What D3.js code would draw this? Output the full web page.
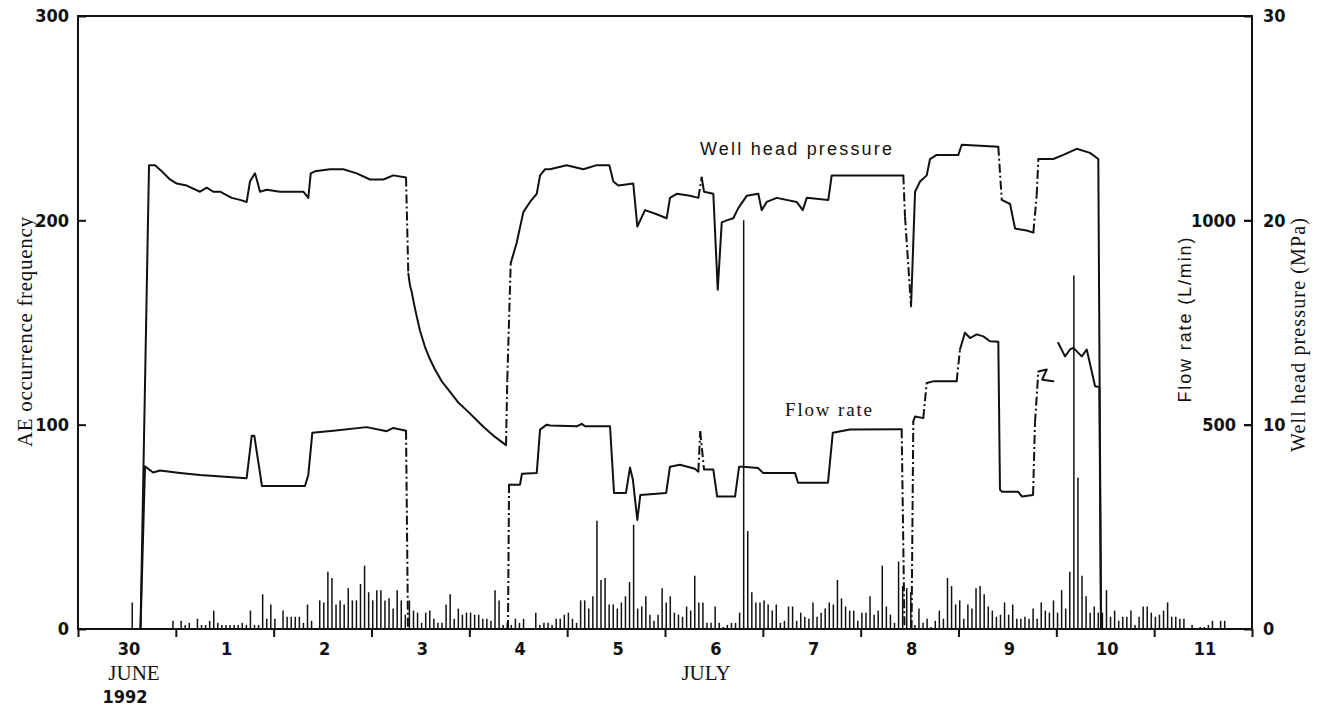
<!DOCTYPE html>
<meta charset="utf-8">
<style>
    body { margin: 0; background: #fff; }
    svg { display: block; }
    .axis path { display: none; }
    .axis line { stroke: #111; stroke-width: 2; }
    .axis text, .num {
        font-family: "Liberation Sans Narrow", "DejaVu Sans Condensed", sans-serif;
        font-weight: bold;
        font-size: 18px;
        fill: #111;
    }
    .serif { font-family: "Liberation Serif", "DejaVu Serif", serif; fill: #111; }
    .sans { font-family: "Liberation Sans", "DejaVu Sans", sans-serif; fill: #111; }
    .trace { fill: none; stroke: #111; stroke-width: 2; stroke-linecap: round; stroke-linejoin: round; }
    .trace.dashed { stroke-dasharray: 9,3,2,3; stroke-linecap: butt; }
    .bars line { stroke: #111; stroke-width: 1.5; }
</style>

<svg width="1323" height="707"></svg>

<script src="https://d3js.org/d3.v7.min.js"></script>
<script>
// day axis: 0 = 30 June 1992 00:00, 12 = 12 July 00:00
var dayLabels = ["30", "1", "2", "3", "4", "5", "6", "7", "8", "9", "10", "11"];

// hourly AE counts, 24 per day starting 30 June
var aeCounts = [
    0,0,0,0,0,0,0,0,0,0,0,0,0,13,0,0,0,0,0,0,0,0,0,4,
    0,4,2,3,0,5,2,2,4,9,3,2,2,2,2,2,3,2,9,2,2,17,5,12,
    5,0,9,6,6,6,6,3,12,4,0,14,13,28,25,12,14,12,20,14,14,22,31,18,
    14,19,19,14,15,10,19,14,7,14,9,8,3,8,9,5,3,3,12,17,5,10,7,8,
    8,7,7,5,5,4,19,14,2,3,2,5,3,5,0,0,8,2,3,3,2,5,5,7,
    8,5,3,14,14,10,16,53,24,25,12,12,10,13,16,23,51,10,11,16,7,4,7,20,
    13,16,8,7,6,11,9,26,13,13,3,3,11,3,1,2,3,3,8,200,48,18,13,13,
    14,12,9,12,3,4,11,11,4,8,6,5,13,6,8,10,13,12,24,15,11,9,9,4,
    8,8,16,7,9,31,11,7,3,33,21,20,18,2,10,3,5,1,4,9,5,25,21,12,
    14,5,12,10,20,21,17,11,9,6,7,13,7,12,5,5,6,5,10,5,13,9,8,14,
    8,19,10,28,173,74,26,16,8,11,8,8,19,6,9,4,6,6,9,2,6,11,11,8,
    6,7,9,13,6,6,5,5,0,2,0,1,1,2,4,0,4,4,0,0,0,0,0,0
];

// well head pressure (MPa)
var pressureDay = [0.639,0.726,0.787,0.856,0.940,1.009,1.111,1.247,1.316,1.383,
    1.452,1.571,1.656,1.724,1.758,1.809,1.833,1.860,1.929,2.065,
    2.133,2.303,2.354,2.379,2.423,2.576,2.712,2.849,2.985,3.121,
    3.223,3.353,3.376,3.394,3.411,3.435,3.462,3.496,3.547,3.598,
    3.649,3.721,3.803,3.884,3.973,4.058,4.143,4.262,
    4.375,4.388,4.423,4.484,4.552,4.620,4.689,4.723,4.774,4.825,
    4.995,5.165,5.302,5.431,5.472,5.523,5.676,5.717,5.796,5.915,
    6.017,6.051,6.120,6.256,6.341,6.375,6.399,6.494,6.539,6.580,
    6.631,6.698,6.749,6.835,6.954,6.988,7.040,7.142,7.346,7.408,
    7.449,7.669,7.704,7.891,8.436,8.453,8.515,8.556,8.607,8.675,
    8.709,8.777,8.998,9.033,9.407,9.442,9.527,9.578,9.697,9.765,
    9.799,9.816,9.969,10.072,10.208,10.344,10.429,10.457];
var pressureMPa = [0,22.7,22.7,22.4,22.0,21.8,21.7,21.4,21.6,21.4,
    21.4,21.1,21.0,20.9,21.9,22.3,21.9,21.4,21.5,21.4,
    21.4,21.4,21.1,22.3,22.4,22.5,22.5,22.3,22.0,22.0,
    22.2,22.1,17.4,16.8,16.5,15.9,15.3,14.6,13.8,13.2,
    12.7,12.1,11.6,11.1,10.7,10.3,9.9,9.4,
    9.0,12.2,17.9,18.9,20.4,20.9,21.3,22.2,22.5,22.5,
    22.7,22.5,22.7,22.7,21.9,21.7,21.8,19.7,20.5,20.3,
    20.1,21.1,21.3,21.2,21.1,22.1,21.4,21.3,16.6,19.9,
    20.0,20.1,20.6,21.2,21.3,20.5,20.9,21.1,20.9,20.5,
    21.1,21.0,22.2,22.2,22.2,20.2,15.8,21.4,21.9,22.2,
    23.0,23.2,23.2,23.7,23.6,21.0,20.8,19.6,19.5,19.4,
    21.2,23.0,23.0,23.2,23.5,23.3,23.0,0];
var pressureDashFrom = [3.353, 4.375, 4.388, 6.341, 8.436, 8.453, 9.407, 9.765, 9.799];

// flow rate (L/min), null = no record
var flowDay = [0.639,0.685,0.767,0.838,1.043,1.247,1.724,1.776,1.802,1.860,
    1.880,2.320,2.354,2.395,2.610,2.951,3.156,3.223,3.353,3.373,
    null,4.395,4.406,4.518,4.538,4.689,4.723,4.791,4.825,5.098,
    5.149,5.183,5.438,5.479,5.601,5.642,5.672,5.717,5.748,6.012,
    6.051,6.153,6.306,6.341,6.360,6.399,6.494,6.533,6.716,6.757,
    6.797,6.951,7.002,7.329,7.360,7.666,7.715,7.891,8.419,8.448,
    null,8.520,8.538,8.556,8.640,8.675,8.742,8.981,9.015,9.066,
    9.118,9.186,9.254,9.322,9.407,9.424,9.445,9.609,9.650,9.762,
    9.782,9.816,9.902,9.855,9.969,null,10.020,10.089,10.140,10.174,
    10.260,10.311,10.396,10.440,10.457];
var flowRate = [0,398,383,388,382,377,369,473,473,382,
    350,350,377,480,485,494,484,492,485,0,
    null,0,353,353,380,382,488,500,498,496,
    502,496,496,333,333,395,365,267,328,333,
    397,402,392,385,484,390,390,324,324,397,
    397,394,382,382,358,358,480,488,489,0,
    null,0,508,520,516,602,606,606,684,725,
    712,721,716,704,703,341,336,336,324,328,
    505,630,635,610,606,null,700,667,684,688,
    667,684,594,592,0];
var flowDashFrom = [3.353, 4.395, 6.341, 6.360, 8.419, 8.520, 8.640, 8.981, 9.762, 9.782];

var svg = d3.select("svg");
var plotLeft = 78, plotRight = 1252, plotTop = 16, plotBottom = 629;

var x = d3.scaleLinear().domain([0, 12]).range([plotLeft, plotRight]);
var yAE = d3.scaleLinear().domain([0, 300]).range([plotBottom, plotTop]);
var yP = d3.scaleLinear().domain([0, 30]).range([plotBottom, plotTop]);
var yF = d3.scaleLinear().domain([0, 1500]).range([plotBottom, plotTop]);

// AE bars
svg.append("g").attr("class", "bars")
    .selectAll("line")
    .data(aeCounts.map(function(c, i) { return { h: i, c: c }; }).filter(function(d) { return d.c > 0; }))
    .enter().append("line")
    .attr("x1", function(d) { return x((d.h + 0.3) / 24); })
    .attr("x2", function(d) { return x((d.h + 0.3) / 24); })
    .attr("y1", yAE(0))
    .attr("y2", function(d) { return yAE(d.c); });

// traces drawn in runs so that some transitions can be dashed
function drawTrace(days, vals, yScale, dashFrom) {
    var line = d3.line().x(function(d) { return x(d[0]); }).y(function(d) { return yScale(d[1]); });
    var g = svg.append("g");
    var run = [];
    function flush() {
        if (run.length > 1) g.append("path").attr("class", "trace").attr("d", line(run));
        run = [];
    }
    for (var i = 0; i < days.length - 1; i++) {
        if (days[i] == null || days[i + 1] == null) { flush(); continue; }
        var p0 = [days[i], vals[i]], p1 = [days[i + 1], vals[i + 1]];
        if (dashFrom.indexOf(days[i]) >= 0) {
            flush();
            g.append("path").attr("class", "trace dashed").attr("d", line([p0, p1]));
        } else {
            if (run.length === 0) run.push(p0);
            run.push(p1);
        }
    }
    flush();
}
drawTrace(pressureDay, pressureMPa, yP, pressureDashFrom);
drawTrace(flowDay, flowRate, yF, flowDashFrom);

// frame
svg.append("rect")
    .attr("x", plotLeft).attr("y", plotTop)
    .attr("width", plotRight - plotLeft).attr("height", plotBottom - plotTop)
    .attr("fill", "none").attr("stroke", "#111").attr("stroke-width", 2);

// axes
svg.append("g").attr("class", "axis")
    .attr("transform", "translate(0," + plotBottom + ")")
    .call(d3.axisBottom(x).tickValues(d3.range(0, 13)).tickSize(8).tickFormat(""));

svg.append("g").attr("class", "axis")
    .selectAll("text")
    .data(dayLabels)
    .enter().append("text")
    .attr("x", function(d, i) { return x(i + 0.5) + 2; })
    .attr("y", 655)
    .attr("text-anchor", "middle")
    .text(function(d) { return d; });

var fmt = d3.format("d");
svg.append("g").attr("class", "axis")
    .attr("transform", "translate(" + plotLeft + ",0)")
    .call(d3.axisLeft(yAE).tickValues([0, 100, 200, 300]).tickFormat(fmt).tickSize(-8).tickPadding(9));

svg.append("g").attr("class", "axis")
    .attr("transform", "translate(" + plotRight + ",0)")
    .call(d3.axisRight(yP).tickValues([0, 10, 20, 30]).tickFormat(fmt).tickSize(-8).tickPadding(11));

svg.append("g").attr("class", "axis")
    .attr("transform", "translate(" + plotRight + ",0)")
    .call(d3.axisLeft(yF).tickValues([500, 1000]).tickFormat(fmt).tickSize(8).tickPadding(8));

// month / year
svg.append("text").attr("class", "serif").attr("x", 134).attr("y", 680)
    .attr("text-anchor", "middle").style("font-size", "21px").text("JUNE");
svg.append("text").attr("class", "num").attr("x", 125).attr("y", 703)
    .attr("text-anchor", "middle").style("font-size", "18px").text("1992");
svg.append("text").attr("class", "serif").attr("x", 706).attr("y", 680)
    .attr("text-anchor", "middle").style("font-size", "21px").text("JULY");

// axis titles
svg.append("text").attr("class", "serif")
    .attr("transform", "translate(32,332) rotate(-90)")
    .attr("text-anchor", "middle").style("font-size", "21px")
    .attr("textLength", 230).attr("lengthAdjust", "spacing")
    .text("AE occurrence frequency");
svg.append("text").attr("class", "sans")
    .attr("transform", "translate(1191,320) rotate(-90)")
    .attr("text-anchor", "middle").style("font-size", "18px")
    .attr("textLength", 165).attr("lengthAdjust", "spacing")
    .text("Flow rate (L/min)");
svg.append("text").attr("class", "serif")
    .attr("transform", "translate(1305,335) rotate(-90)")
    .attr("text-anchor", "middle").style("font-size", "20px")
    .attr("textLength", 234).attr("lengthAdjust", "spacing")
    .text("Well head pressure (MPa)");

// series labels
svg.append("text").attr("class", "sans").attr("x", 700).attr("y", 155)
    .style("font-size", "18px")
    .attr("textLength", 192).attr("lengthAdjust", "spacing")
    .text("Well head pressure");
svg.append("text").attr("class", "serif").attr("x", 785).attr("y", 416)
    .style("font-size", "19px")
    .attr("textLength", 87).attr("lengthAdjust", "spacing")
    .text("Flow rate");
</script>
